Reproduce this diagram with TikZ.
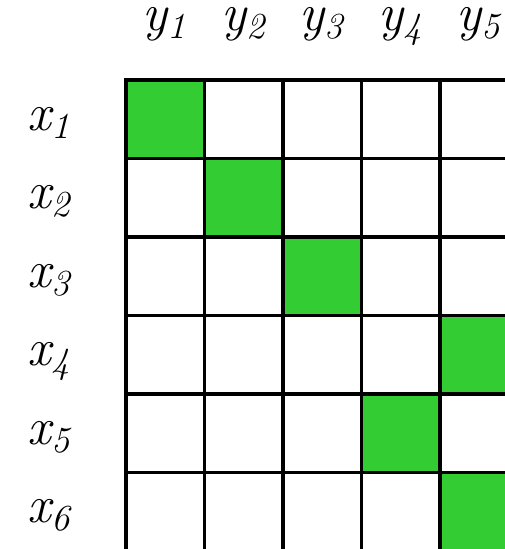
\documentclass[tikz,border=0pt]{standalone}
\usetikzlibrary{positioning}
\definecolor{matchgreen}{HTML}{33CC33}
\begin{document}
\begin{tikzpicture}[x=1cm, y=1cm,
    cellbox/.style={draw=black, line width=1.4pt, minimum size=1cm, inner sep=0pt, outer sep=0pt},
    matchbox/.style={fill=matchgreen, minimum size=1cm, inner sep=0pt, outer sep=0pt},
    lbl/.style={font=\fontsize{19}{22}\selectfont\itshape, inner sep=0pt, anchor=base}]

    % Page frame (the grid runs off the right and bottom edges)
    \useasboundingbox (-1.605,1.019) rectangle (4.828,-5.975);
    \clip (-1.605,1.019) rectangle (4.828,-5.975);

    % Matched cells
    \foreach \r/\c in {1/1, 2/2, 3/3, 4/5, 5/4, 6/5}
        \node[matchbox] (m-\r-\c) at (\c-0.5,-\r+0.5) {};

    % Grid of cells
    \foreach \r in {1,...,6}
        \foreach \c in {1,...,5}
            \node[cellbox] (c-\r-\c) at (\c-0.5,-\r+0.5) {};

    % Column labels
    \foreach \c in {1,...,5}
        \node[lbl] (y-\c) at ([yshift=0.63cm]c-1-\c.north) {y\textsubscript{\c}};

    % Row labels
    \foreach \r in {1,...,6}
        \node[lbl, anchor=base west] (x-\r) at ([xshift=-1.26cm, yshift=-0.14cm]c-\r-1.west) {x\textsubscript{\r}};

\end{tikzpicture}
\end{document}
